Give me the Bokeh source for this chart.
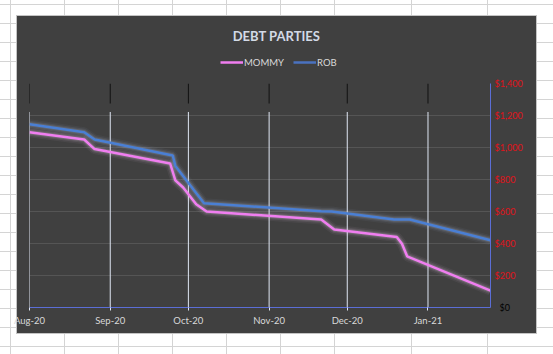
import pandas as pd
from bokeh.plotting import figure
from bokeh.layouts import column
from bokeh.core.properties import value
from bokeh.models import (Range1d, FixedTicker, NumeralTickFormatter, DatetimeTickFormatter,
                          Legend, LegendItem, LinearAxis)
from bokeh.embed import file_html
from bokeh.resources import INLINE

# ---- data ----
mommy_dates = ["2020-08-01", "2020-08-22", "2020-08-26", "2020-09-24", "2020-09-26", "2020-09-29",
               "2020-10-04", "2020-10-08", "2020-11-21", "2020-11-26", "2020-12-20", "2020-12-22",
               "2020-12-24", "2021-01-25"]
mommy_values = [1095, 1050, 990, 900, 795, 750, 645, 600, 550, 488, 440, 398, 320, 105]
rob_dates = ["2020-08-01", "2020-08-22", "2020-08-26", "2020-09-25", "2020-09-26", "2020-10-07",
             "2020-11-21", "2020-11-25", "2020-12-19", "2020-12-25", "2021-01-25"]
rob_values = [1145, 1095, 1050, 950, 885, 652, 602, 600, 550, 550, 420]
month_ticks = ["2020-08-01", "2020-09-01", "2020-10-01", "2020-11-01", "2020-12-01", "2021-01-01"]
y_ticks = [0, 200, 400, 600, 800, 1000, 1200, 1400]
x_start, x_end = "2020-08-01", "2021-01-25"
title_text = "DEBT PARTIES"
series_names = ["MOMMY", "ROB"]

md = pd.to_datetime(mommy_dates)
rd = pd.to_datetime(rob_dates)
mt = pd.to_datetime(month_ticks)
mt_ms = [t.value / 1e6 for t in mt]

FONT = "Lato"
BG = "#404040"
PINK = "#f07ef0"
BLUE = "#4a7fd4"
CELL = "#d4d4d4"

# spreadsheet background (CSS, decorative)
col_lines = [10, 64, 118, 172, 226, 280, 334, 411, 487]
stops = []
for c in col_lines:
    stops.append(f"transparent {c}px, {CELL} {c}px, {CELL} {c + 1}px, transparent {c + 1}px")
vlines = "linear-gradient(to right, " + ", ".join(stops) + ")"
hlines = (f"repeating-linear-gradient(to bottom, transparent 0px, transparent 4px, {CELL} 4px, "
          f"{CELL} 5px, transparent 5px, transparent 19px)")
box = f"linear-gradient({BG}, {BG})"
box_edge = "linear-gradient(#c4c4c4, #c4c4c4)"
sheet_styles = {
    "background-color": "white",
    "background-image": ", ".join([box, box_edge, vlines, hlines]),
    "background-size": "519px 317px, 521px 319px, 100% 100%, 100% 100%",
    "background-position": "17px 16px, 16px 15px, 0 0, 0 0",
    "background-repeat": "no-repeat",
}

# ---- header: title + legend (frame is aligned with the main chart: 29..490 px) ----
HH = 76
h = figure(width=553, height=HH, x_range=Range1d(29, 490), y_range=Range1d(HH, 0),
           output_backend="svg", toolbar_location=None, min_border=0,
           border_fill_color=None, background_fill_color=None, outline_line_color=None)
h.axis.visible = False
h.grid.visible = False
h.text(x=[276], y=[35], text=[title_text], text_font=value(FONT), text_font_style="bold",
       text_font_size="13px", text_color="#d3dae6", text_align="center", text_baseline="middle")
nan = float("nan")
lm = h.line(x=[nan], y=[nan], line_color=PINK, line_width=2.5)
lr = h.line(x=[nan], y=[nan], line_color="#4a72c0", line_width=2.5)
legend = Legend(items=[LegendItem(label=series_names[0], renderers=[lm]),
                       LegendItem(label=series_names[1], renderers=[lr])],
                location=(191, 8), orientation="horizontal", padding=0, margin=0, spacing=9,
                glyph_width=23, glyph_height=12, label_standoff=1, label_height=12,
                label_text_font=FONT, label_text_font_size="9.5px", label_text_color="#d9d9d9",
                background_fill_alpha=0, border_line_alpha=0)
h.add_layout(legend)

# ---- main chart ----
p = figure(width=553, height=354 - HH, x_axis_type="datetime", y_axis_location="right",
           x_range=Range1d(pd.Timestamp(x_start), pd.Timestamp(x_end)),
           y_range=Range1d(0, 1400),
           output_backend="svg", toolbar_location=None,
           min_border_left=29, min_border_right=63, min_border_top=83 - HH, min_border_bottom=47,
           border_fill_color=None, background_fill_color=BG, outline_line_color=None)

p.xgrid.visible = False
p.ygrid.ticker = FixedTicker(ticks=y_ticks)
p.ygrid.grid_line_color = "#555555"

p.segment(x0=mt, x1=mt, y0=0, y1=1222, line_color="#dfe6f3", line_width=1)
p.segment(x0=mt, x1=mt, y0=1275, y1=1400, line_color="#111111", line_width=1)

for w, a in [(10, 0.05), (7, 0.09), (4.5, 0.16)]:
    p.line(md, mommy_values, line_color="#f6d2f6", line_width=w, line_alpha=a)
    p.line(rd, rob_values, line_color="#b8c8e8", line_width=w, line_alpha=a)
p.line(md, mommy_values, line_color=PINK, line_width=2.5)
p.line(rd, rob_values, line_color=BLUE, line_width=2.5)

xa = p.xaxis[0]
xa.ticker = FixedTicker(ticks=mt_ms)
xa.formatter = DatetimeTickFormatter(months="%b-%y", days="%b-%y")
xa.axis_line_color = "#5b6ed6"
xa.major_tick_line_color = "#dfe6f3"
xa.major_tick_out = 3
xa.major_tick_in = 0
xa.minor_tick_line_color = None
xa.major_label_standoff = 4
xa.major_label_text_color = "#d9d9d9"
xa.major_label_text_font = FONT
xa.major_label_text_font_size = "9.5px"

ya = p.yaxis[0]
ya.ticker = FixedTicker(ticks=y_ticks[:1])
ya.formatter = NumeralTickFormatter(format="$0,0")
ya.axis_line_color = "#5b6ed6"
ya.major_tick_line_color = None
ya.major_tick_out = 0
ya.major_tick_in = 0
ya.minor_tick_line_color = None
ya.major_label_standoff = 9
ya.major_label_text_color = "black"
ya.major_label_text_font = FONT
ya.major_label_text_font_size = "9px"

yb = LinearAxis(ticker=FixedTicker(ticks=y_ticks[1:]), formatter=NumeralTickFormatter(format="$0,0"),
                axis_line_color=None, major_tick_line_color=None, major_tick_out=0, major_tick_in=0,
                minor_tick_line_color=None, major_label_standoff=-18,
                major_label_text_color="#e0121a", major_label_text_font=FONT,
                major_label_text_font_size="9px")
p.add_layout(yb, "right")

layout = column(h, p, width=553, height=354, spacing=0, styles=sheet_styles)

open("out.html", "w").write(file_html(layout, INLINE))
